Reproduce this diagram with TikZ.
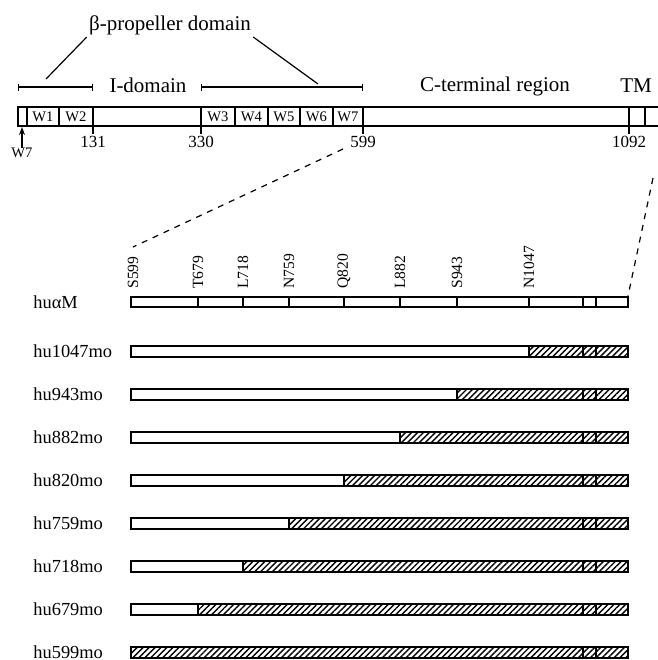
\documentclass[tikz,border=0pt]{standalone}
\usepackage{fontspec}
\setmainfont{Liberation Serif}
\usetikzlibrary{arrows.meta}
\usetikzlibrary{patterns.meta}

\tikzset{
  bar/.style={line width=1.15pt},
  divider/.style={line width=1.1pt},
  hatch/.style={pattern={Lines[angle=45,distance=2.1pt,line width=0.7pt]}},
  rowlabel/.style={anchor=west, inner sep=0pt, font=\fontsize{9.2}{10}\selectfont},
  toplabel/.style={inner sep=1pt, font=\fontsize{10.5}{12}\selectfont},
  numlabel/.style={anchor=north, inner sep=0pt, font=\fontsize{8.5}{9}\selectfont},
  wlabel/.style={inner sep=0pt, font=\fontsize{7.3}{8}\selectfont},
  sitelabel/.style={rotate=90, anchor=west, inner sep=0pt, font=\fontsize{7.8}{8}\selectfont},
  spanbar/.style={line width=0.6pt, {Bar[width=3.5pt]}-{Bar[width=3.5pt]}},
  zoomline/.style={line width=0.6pt, dash pattern=on 3pt off 3pt}
}

\begin{document}
\begin{tikzpicture}[x=0.5pt, y=-0.5pt]
\useasboundingbox (0,0) rectangle (658,660);

% domain labels above the chain
\node[toplabel] (beta) at (170,25) {β-propeller domain};
\node[toplabel] (idom) at (148,85) {I-domain};
\node[toplabel] (cterm) at (495,86) {C-terminal region};
\node[toplabel] (tm) at (636,86) {TM};

\coordinate (pl1) at (18,87);  \coordinate (pl2) at (93,87);
\coordinate (pr1) at (201,87); \coordinate (pr2) at (363,87);
\draw[spanbar] (pl1) -- (pl2);
\draw[spanbar] (pr1) -- (pr2);
\coordinate (pla) at (46,79);  \coordinate (pra) at (318,84);
\draw[line width=0.6pt] (beta.south west) -- (pla);
\draw[line width=0.6pt] (beta.south east) -- (pra);

% full chain
\draw[bar] (658,107) -| (18,126) -- (658,126);
\foreach \x in {27, 59, 93, 201, 235, 268, 300, 333, 363, 629, 645} \draw[divider] (\x,107) -- (\x,126);
\foreach \a/\b/\w in {27/59/W1, 59/93/W2, 201/235/W3, 235/268/W4, 268/300/W5, 300/333/W6, 333/363/W7} \node[wlabel] (w-\w) at ({(\a+\b)/2},116.5) {\w};

\foreach \x/\r in {93/131, 201/330, 363/599, 629/1092} {
  \coordinate (tk\r) at (\x,126);
  \draw[line width=0.6pt] (tk\r) --++(0,8) node[numlabel, yshift=-1pt] (n\r) {\r};
}

\node[wlabel, anchor=north] (w7b) at (22,148) {W7};
\coordinate (w7t) at (22,127);
\draw[line width=0.6pt, -{Stealth[length=4pt, width=3pt]}] (w7b) -- (w7t);

% zoomed C-terminal part
\coordinate (zl1) at (343,149); \coordinate (zl2) at (133,247);
\coordinate (zr1) at (653,178); \coordinate (zr2) at (628,296);
\draw[zoomline] (zl1) -- (zl2);
\draw[zoomline] (zr1) -- (zr2);

\node[rowlabel] (lab0) at (33,302) {huαM};
\draw[bar] (131,297) rectangle (628,307);
\foreach \x in {198, 243, 289, 344, 400, 457, 529, 583, 596} \draw[divider] (\x,297) -- (\x,307);
\foreach \x/\s in {133/S599, 198/T679, 243/L718, 289/N759, 344/Q820, 400/L882, 457/S943, 529/N1047} \node[sitelabel] (s-\s) at (\x,289) {\s};

% human/mouse chimeras
\foreach \cut/\name [count=\i] in {529/hu1047mo, 457/hu943mo, 400/hu882mo, 344/hu820mo, 289/hu759mo, 243/hu718mo, 198/hu679mo, 131/hu599mo} {
  \pgfmathsetmacro\yc{351.5+43*(\i-1)}
  \node[rowlabel] (lab\i) at (33,\yc) {\name};
  \fill[hatch] (\cut,\yc-5.5) rectangle (628,\yc+5.5);
  \draw[bar] (131,\yc-5.5) rectangle (628,\yc+5.5);
  \foreach \x in {\cut, 583, 596} \draw[divider] (\x,\yc-5.5) -- (\x,\yc+5.5);
}

\end{tikzpicture}
\end{document}
